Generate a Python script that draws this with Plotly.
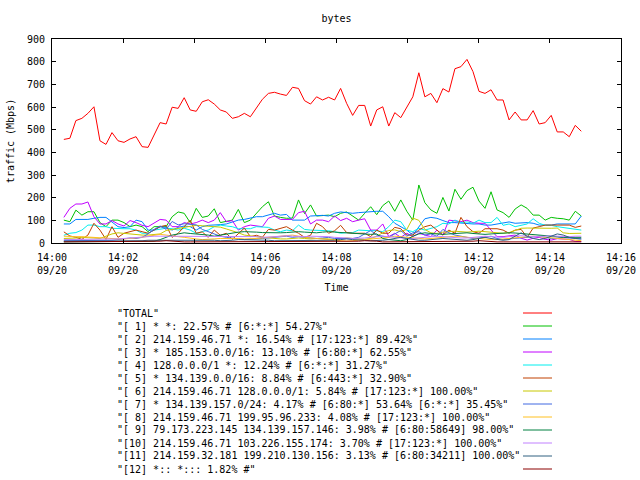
import pandas as pd
import plotly.graph_objects as go

# ---------------- data ----------------
n_points = 87
times = pd.date_range("2023-09-20 14:00:20", "2023-09-20 14:14:53", periods=n_points)

tick_vals = ["2023-09-20 14:00", "2023-09-20 14:02", "2023-09-20 14:04", "2023-09-20 14:06",
             "2023-09-20 14:08", "2023-09-20 14:10", "2023-09-20 14:12", "2023-09-20 14:14",
             "2023-09-20 14:16"]
tick_text = ["14:00<br>09/20", "14:02<br>09/20", "14:04<br>09/20", "14:06<br>09/20",
             "14:08<br>09/20", "14:10<br>09/20", "14:12<br>09/20", "14:14<br>09/20",
             "14:16<br>09/20"]

total = [457, 462, 540, 550, 572, 601, 451, 435, 487, 451, 444, 459, 469, 425, 422, 476, 531, 525,
         599, 594, 641, 587, 581, 623, 632, 613, 587, 578, 550,
         557, 572, 557, 594, 634, 660, 665, 657, 651, 687, 682, 628, 613, 645, 631, 643, 631, 682,
         616, 563, 607, 607, 516, 587, 601, 516, 575, 553, 601,
         645, 751, 645, 660, 619, 681, 666, 769, 778, 810, 756, 669, 660, 676, 631, 631, 543, 578,
         543, 543, 584, 525, 531, 563, 490, 490, 469, 519, 493]

s1 = [101, 94, 145, 123, 138, 138, 90, 72, 101, 101,
      90, 72, 79, 72, 50, 72, 72, 72, 116, 137,
      131, 90, 153, 113, 119, 151, 90, 94, 101, 148,
      90, 101, 131, 160, 182, 119, 113, 109, 110, 190,
      130, 168, 119, 120, 123, 116, 131, 137, 118, 101,
      131, 160, 125, 165, 185, 140, 190, 140, 101, 256,
      178, 146, 131, 201, 141, 237, 193, 231, 246, 185,
      153, 226, 146, 134, 113, 150, 168, 153, 123, 123,
      101, 113, 109, 107, 101, 140, 119]

s2 = [84, 84, 104, 104, 104, 109, 113, 113, 94, 72,
      68, 72, 101, 94, 57, 57, 72, 69, 57, 69,
      75, 72, 57, 72, 78, 78, 81, 84, 94, 101,
      104, 109, 116, 116, 123, 131, 123, 126, 101, 101,
      101, 119, 122,
      122, 119, 131, 137, 134, 131, 134, 137, 140, 140,
      140, 116, 87, 72, 57, 35, 72, 107, 113, 109,
      99, 90, 90, 87, 84, 84, 84, 79, 79, 84,
      87, 93, 87, 90, 90, 87, 79, 79, 79, 84,
      84, 84, 84, 119]

s3 = [113, 153, 172, 172, 181, 116, 84, 84, 99, 84,
      75, 99, 90, 78, 72, 87, 104, 101, 72, 72,
      90, 84, 90, 101, 90, 101, 134, 94, 99, 57,
      72, 79, 75, 72, 109, 119, 104, 104, 104, 134,
      140, 84, 101,
      101, 94, 119, 99, 109, 94, 101, 107, 57, 57,
      84, 28, 43, 25, 43, 28, 43, 34, 28, 57,
      35, 101, 99, 94, 101, 90, 87, 87, 57, 28,
      28, 31, 35, 21, 13, 21, 25, 16, 13, 19,
      19, 16, 7, 7]

s4 = [34, 43, 46, 57, 79, 79, 72, 72, 65, 63,
      63, 63, 57, 43, 43, 57, 60, 65, 63, 57,
      65, 57, 43, 50, 57, 72, 79, 75, 72, 63,
      63, 63, 72, 72, 69, 57, 50, 57, 54, 79,
      60, 57, 57,
      54, 54, 50, 43, 46, 46, 57, 54, 54, 54,
      50, 72, 101, 94, 57, 50, 65, 57, 63, 72,
      87, 84, 101, 90, 93, 87, 101, 90, 90, 113,
      78, 84, 72, 78, 84, 107, 87, 78, 78, 72,
      69, 65, 60, 57]

s5 = [49, 31, 25, 16, 35, 87, 57, 16, 72, 25,
      43, 50, 57, 50, 43, 57, 72, 78, 25, 43,
      72, 101, 43, 49, 25, 57, 34, 43, 16, 43,
      66, 28, 34, 25, 60, 57, 63, 72, 57, 43,
      25, 34, 87,
      72, 43, 54, 78, 46, 43, 43, 43, 28, 57,
      43, 43, 69, 63, 35, 35, 57, 72, 79, 57,
      35, 57, 43, 113, 72, 50, 43, 63, 63, 63,
      57, 43, 57, 60, 25, 66, 72, 79, 79, 79,
      79, 79, 69, 75]

s6 = [20, 20, 22, 25, 25, 22, 20,
      30, 40, 45, 42, 38, 36,
      35, 35, 36, 40, 55, 60,
      62, 70, 75, 78, 76, 74, 72,
      70, 62, 55, 45, 35, 30,
      28, 25, 22, 20, 18, 18, 20,
      22, 20, 18, 20,
      20, 18, 15, 18, 22, 20, 18, 16,
      20, 30, 45, 55, 58, 50,
      60, 110, 100, 60, 45, 42,
      48, 50, 52, 50, 48, 50, 52, 50,
      48, 45, 43, 46, 55, 65,
      66, 65, 64, 64, 65, 66,
      45, 42, 43, 43]

s7 = [10, 10, 10, 12, 12, 10, 10, 10, 12, 15, 20, 22, 20,
      25, 40, 60, 75, 60, 95, 80, 85,
      82, 80, 60, 50, 40, 30, 25,
      20, 18, 15, 15, 18, 20, 22, 25,
      28, 30, 25, 28, 25, 22, 20,
      22, 25, 20, 20, 18, 20, 25, 40, 55, 35,
      30, 25, 40, 55, 30, 45, 50, 35,
      40, 30, 60, 45, 35, 30, 25, 20,
      22, 25, 30, 20, 15, 18, 20, 22,
      25, 28, 30, 25, 20, 22, 25, 22, 20, 18]

s8 = [30, 28, 28, 28, 26, 25, 22, 20, 20, 18, 18,
      20, 22, 25, 30, 35, 38, 35, 30, 28, 25,
      20, 18, 15, 15, 18, 20, 20, 22, 20, 18,
      18, 20, 22, 25, 28, 30, 32, 35, 30, 25,
      22, 20, 18, 15, 12, 10, 8, 10, 12, 15,
      18, 20, 22, 25, 30, 28, 25, 22, 20, 18,
      20, 22, 25, 28, 30, 28, 25, 22, 20, 18,
      15, 15, 18, 20, 22, 25, 28, 30, 28, 25,
      22, 20, 18, 15, 12, 10]

s9 = [5, 5, 5, 5, 5, 5, 5, 5, 5, 5, 5, 5, 5, 5, 5, 8, 15, 25,
      35, 40, 45, 42, 40, 38, 35, 30,
      35, 40, 45, 48, 50, 50, 48, 46, 45, 44,
      45, 46, 48, 50, 48, 46, 45, 48, 50,
      48, 46, 45, 44, 42, 40, 38, 40,
      20, 15, 12, 10, 15, 30, 40, 45,
      42, 40, 38, 40, 42, 44, 45, 42,
      40, 38, 40, 42, 44, 45, 44, 42,
      40, 38, 36, 35, 30, 28, 25, 25, 24, 25]

s10 = [15, 15, 15, 15, 15, 15, 15, 15, 15, 18, 20, 22, 25, 28, 30,
       30, 30, 30, 28, 28, 28, 28, 28, 28, 28, 28, 28, 28, 28, 28,
       30, 30, 28, 25, 25, 28, 30, 32, 30, 28, 28, 30, 30, 28, 28,
       25, 25, 22, 20, 20, 22, 25, 28, 30, 28, 25, 22, 20, 20, 22,
       25, 28, 30, 28, 25, 25, 22, 22, 25, 28, 30, 28, 25, 25, 28,
       30, 32, 30, 28, 28, 30, 32, 30, 28, 28, 30, 30]

s11 = [8, 8, 8, 8, 8, 8, 8, 8, 8, 8, 10, 10, 10, 10, 12, 12, 12, 12, 12, 12,
       12, 15, 15, 15, 12, 12, 10, 10, 12, 15, 15, 15, 12, 12, 12, 10, 10, 12, 12, 12,
       12, 12, 10, 10, 10, 12, 15, 18, 15, 12, 12, 10, 10, 12, 15, 20, 25, 20, 15, 12,
       12, 15, 18, 20, 18, 15, 12, 12, 15, 20, 25, 20, 15, 12, 15, 30, 45, 30, 20, 15,
       20, 30, 40, 35, 25, 20, 18]

s12 = [5, 5, 5, 5, 5, 5, 8, 8, 5, 5,
       5, 5, 5, 5, 5, 5, 8, 10, 8, 5,
       5, 5, 5, 5, 8, 8, 5, 5, 5, 5,
       5, 5, 5, 5, 5, 5, 8, 8, 8, 5,
       5, 5, 5, 5, 5, 5, 5, 5, 5, 8,
       10, 10, 8, 5, 5, 5, 5, 5, 5, 8,
       8, 8, 5, 5, 5, 5, 5, 5, 8, 10,
       8, 5, 5, 5, 5, 5, 5, 5, 8, 8,
       5, 5, 5, 5, 5, 5, 5]

series_names = [
    '"TOTAL"',
    '"[ 1] * *: 22.57% # [6:*:*] 54.27%"',
    '"[ 2] 214.159.46.71 *: 16.54% # [17:123:*] 89.42%"',
    '"[ 3] * 185.153.0.0/16: 13.10% # [6:80:*] 62.55%"',
    '"[ 4] 128.0.0.0/1 *: 12.24% # [6:*:*] 31.27%"',
    '"[ 5] * 134.139.0.0/16: 8.84% # [6:443:*] 32.90%"',
    '"[ 6] 214.159.46.71 128.0.0.0/1: 5.84% # [17:123:*] 100.00%"',
    '"[ 7] * 134.139.157.0/24: 4.17% # [6:80:*] 53.64% [6:*:*] 35.45%"',
    '"[ 8] 214.159.46.71 199.95.96.233: 4.08% # [17:123:*] 100.00%"',
    '"[ 9] 79.173.223.145 134.139.157.146: 3.98% # [6:80:58649] 98.00%"',
    '"[10] 214.159.46.71 103.226.155.174: 3.70% # [17:123:*] 100.00%"',
    '"[11] 214.159.32.181 199.210.130.156: 3.13% # [6:80:34211] 100.00%"',
    '"[12] *:: *::: 1.82% #"',
]
series_values = [total, s1, s2, s3, s4, s5, s6, s7, s8, s9, s10, s11, s12]
series_colors = ["#ff0000", "#00c000", "#0080ff", "#c000ff", "#00eeee", "#c04000",
                 "#c8c800", "#4169e1", "#ffc020", "#008040", "#c080ff", "#306080", "#8b0000"]

# ---------------- figure ----------------
PL, PR, PT, PB = 52, 621, 39, 243
W, H = 640, 480
pw, ph = PR - PL, PB - PT

def px_to_paper_x(px):
    return (px - PL) / pw

def px_to_paper_y(py):
    return (PB - py) / ph

fig = go.Figure()
for name, vals, col in zip(series_names, series_values, series_colors):
    fig.add_trace(go.Scatter(x=times[:len(vals)], y=vals, mode="lines", name=name,
                             line=dict(color=col, width=1)))

font_family = "DejaVu Sans Mono"
axis_common = dict(showline=True, linecolor="black", linewidth=1, mirror="ticks",
                   ticks="inside", ticklen=4, tickcolor="black", tickwidth=1,
                   showgrid=False, zeroline=False,
                   tickfont=dict(family=font_family, size=10, color="black"))

fig.update_layout(
    width=W, height=H,
    margin=dict(l=PL, r=W - PR, t=PT, b=H - PB, pad=0),
    paper_bgcolor="white", plot_bgcolor="white",
    showlegend=False,
    font=dict(family=font_family, size=10, color="black"),
    title=dict(text="bytes", x=(PL + PR) / 2 / W, xanchor="center",
               y=1 - 18 / H, yanchor="middle", yref="container",
               font=dict(family=font_family, size=10, color="black")),
    xaxis=dict(type="date", range=["2023-09-20 14:00", "2023-09-20 14:16"],
               tickvals=tick_vals, ticktext=tick_text, automargin=False,
               ticklabelstandoff=5,
               title=dict(text="Time", standoff=8,
                          font=dict(family=font_family, size=10, color="black")),
               **axis_common),
    yaxis=dict(range=[0, 900], tick0=0, dtick=100, automargin=False,
               ticklabelstandoff=4,
               title=dict(text="traffic (Mbps)", standoff=10,
                          font=dict(family=font_family, size=10, color="black")),
               **axis_common),
)

# gnuplot-style key below the plot: text on the left, line sample on the right
for i, (name, col) in enumerate(zip(series_names, series_colors)):
    py = 313 + 13 * i
    yp = px_to_paper_y(py)
    fig.add_annotation(text=name, x=px_to_paper_x(115), y=yp, xref="paper", yref="paper",
                       xanchor="left", yanchor="middle", showarrow=False,
                       font=dict(family=font_family, size=10, color="black"))
    fig.add_shape(type="line", xref="paper", yref="paper",
                  x0=px_to_paper_x(523), x1=px_to_paper_x(552), y0=yp, y1=yp,
                  line=dict(color=col, width=1))

fig.write_html("out.html")
